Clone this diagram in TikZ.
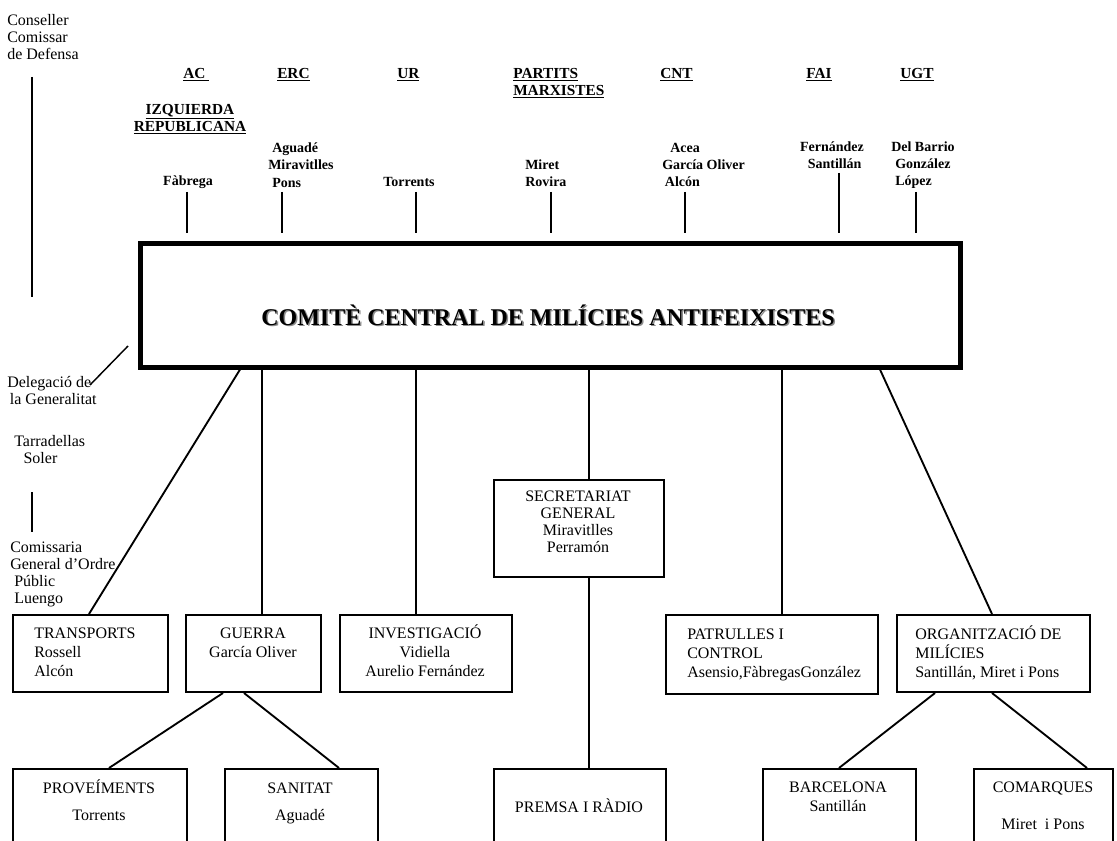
\documentclass[tikz,border=0pt]{standalone}
\usepackage{fontspec}
\setmainfont{Liberation Serif}
\usetikzlibrary{calc}
\newcommand{\fstr}{\rule{0pt}{11.5pt}}
\newcommand{\lstr}{\rule[-3.5pt]{0pt}{3.5pt}}
\begin{document}
\begin{tikzpicture}[x=0.75pt,y=-0.75pt,
  ln/.style={line width=1.4pt},
  thinln/.style={line width=1.1pt},
  bx/.style={draw,line width=1.5pt,inner sep=0pt,anchor=north west},
  tx/.style={inner sep=0pt,font=\fontsize{12}{14.25}\selectfont},
  side/.style={inner sep=0pt,align=left,anchor=west,font=\fontsize{12}{12.75}\selectfont},
  hd/.style={inner sep=0pt,anchor=west,font=\fontsize{11.5}{12.75}\selectfont\bfseries},
  nm/.style={inner sep=0pt,font=\fontsize{10.5}{13}\selectfont\bfseries},
]
\useasboundingbox (0,0) rectangle (1117,841);
\clip (0,0) rectangle (1117,841);

% ---------- top-left ----------
\node[side] (cons) at (7,37) {Conseller\\Comissar\\de Defensa};
\coordinate (cv1) at (32,77);
\coordinate (cv2) at (32,297);
\draw[ln] (cv1) -- (cv2);

% ---------- party headers ----------
\node[hd] (ac) at (183,75) {\underline{AC~}};
\node[hd] (erc) at (277,75) {\underline{ERC}};
\node[hd] (ur) at (397,75) {\underline{UR}};
\node[hd,align=left] (pm) at (513,83.5) {\underline{PARTITS}\\\underline{MARXISTES}};
\node[hd] (cnt) at (660,75) {\underline{CNT}};
\node[hd] (fai) at (806,75) {\underline{FAI}};
\node[hd] (ugt) at (900,75) {\underline{UGT}};
\node[hd,anchor=center,align=center] (izq) at (190,119) {\underline{IZQUIERDA}\\\underline{REPUBLICANA}};

% ---------- names ----------
\node[nm] (fab) at (188,182) {Fàbrega};
\node[nm,align=left,anchor=west] (agu) at (268,165) {\hspace*{3pt}Aguadé\\Miravitlles\\\hspace*{3pt}Pons};
\node[nm,anchor=west] (tor) at (383,182) {Torrents};
\node[nm,align=left,anchor=west] (mir) at (525,173) {Miret\\Rovira};
\node[nm,align=left,anchor=west] (cntn) at (662,165) {\hspace*{6pt}Acea\\García Oliver\\\hspace*{2pt}Alcón};
\node[nm,align=center] (fain) at (832,155) {Fernández\\\hspace*{4pt}Santillán};
\node[nm,align=left,anchor=west] (ugtn) at (891,165) {Del Barrio\\\hspace*{3pt}González\\\hspace*{3pt}López};

\foreach \n/\x/\y in {a/187/192, b/282/192, c/416/192, d/551/192, e/685/192, f/839/173, g/916/192}{
  \coordinate (top\n) at (\x,\y);
  \coordinate (bot\n) at (\x,233);
  \draw[ln] (top\n) -- (bot\n);
}

% ---------- main box ----------
\node[draw,line width=3.4pt,inner sep=0pt,anchor=north west,minimum width=615pt,minimum height=93pt] (cc) at (138,241) {};
\node[text=black!45,font=\fontsize{18}{20}\selectfont\bfseries] (titlesh) at (549.5,316.5) {COMITÈ CENTRAL DE MILÍCIES ANTIFEIXISTES};
\node[font=\fontsize{18}{20}\selectfont\bfseries] (title) at (548,315) {COMITÈ CENTRAL DE MILÍCIES ANTIFEIXISTES};

% ---------- left column ----------
\node[side] (deleg) at (7,391) {Delegació de\\\hspace*{2pt}la Generalitat};
\coordinate (dl1) at (128,346);
\coordinate (dl2) at (90,385);
\draw[thinln] (dl1) -- (dl2);
\node[side] (tarr) at (14,450) {Tarradellas\\\hspace*{7pt}Soler};
\coordinate (tv1) at (32,492);
\coordinate (tv2) at (32,532);
\draw[ln] (tv1) -- (tv2);
\node[side] (comis) at (10,574.5) {Comissaria\\General d’Ordre\\\hspace*{3pt}Públic\\\hspace*{3pt}Luengo};

% ---------- boxes ----------
\node[bx,minimum width=116.25pt,minimum height=57.75pt] (trans) at (12,614) {};
\node[bx,minimum width=101.25pt,minimum height=57.75pt] (guerra) at (185,614) {};
\node[bx,minimum width=129pt,minimum height=57.75pt] (invest) at (339,614) {};
\node[bx,minimum width=127.5pt,minimum height=72.75pt] (secr) at (493,479) {};
\node[bx,minimum width=159pt,minimum height=59.25pt] (patr) at (665,614) {};
\node[bx,minimum width=144.75pt,minimum height=57.75pt] (org) at (896,614) {};
\node[bx,minimum width=130.5pt,minimum height=75pt] (prov) at (12,768) {};
\node[bx,minimum width=114.75pt,minimum height=75pt] (san) at (224,768) {};
\node[bx,minimum width=129pt,minimum height=75pt] (prem) at (493,768) {};
\node[bx,minimum width=114.75pt,minimum height=75pt] (barc) at (762,768) {};
\node[bx,minimum width=104.25pt,minimum height=75pt] (comar) at (973,768) {};

\node[tx,align=left,anchor=west] (transT) at (34,652) {\fstr TRANSPORTS\\Rossell\\Alcón\lstr};
\node[tx,align=center] (guerraT) at (253,643) {\fstr GUERRA\\García Oliver\lstr};
\node[tx,align=center] (investT) at (425,652) {\fstr INVESTIGACIÓ\\Vidiella\\Aurelio Fernández\lstr};
\node[tx,align=center,font=\fontsize{12}{12.75}\selectfont] (secrT) at (578,522) {\fstr SECRETARIAT\\GENERAL\\Miravitlles\\Perramón\lstr};
\node[tx,align=left,anchor=west] (patrT) at (687,653) {\fstr PATRULLES I\\CONTROL\\Asensio,FàbregasGonzález\lstr};
\node[tx,align=left,anchor=west] (orgT) at (915,653) {\fstr ORGANITZACIÓ DE\\MILÍCIES\\Santillán, Miret i Pons\lstr};
\node[tx,align=center] (provT) at (99,801.5) {\fstr PROVEÍMENTS\\[5.75pt]Torrents\lstr};
\node[tx,align=center] (sanT) at (300,801.5) {\fstr SANITAT\\[5.75pt]Aguadé\lstr};
\node[tx] (premT) at (579,807) {\fstr PREMSA I RÀDIO\lstr};
\node[tx,align=center] (barcT) at (838,797) {\fstr BARCELONA\\Santillán\lstr};
\node[tx,align=center] (comT) at (1043,806) {\fstr COMARQUES\\[13.5pt]Miret\ \ i Pons\lstr};

% ---------- connectors ----------
\draw[ln] ($(cc.south west)+(102,0)$) -- ($(trans.north west)+(77,0)$);
\draw[ln] ($(cc.south west)+(124,0)$) -- ($(guerra.north west)+(77,0)$);
\draw[ln] ($(cc.south west)+(278,0)$) -- ($(invest.north west)+(77,0)$);
\draw[ln] ($(cc.south west)+(451,0)$) -- ($(secr.north west)+(96,0)$);
\draw[ln] ($(secr.south west)+(96,0)$) -- ($(prem.north west)+(96,0)$);
\draw[ln] ($(cc.south west)+(644,0)$) -- ($(patr.north west)+(117,0)$);
\draw[ln] ($(cc.south west)+(742,0)$) -- ($(org.north west)+(96,0)$);
\draw[ln] ($(guerra.south west)+(38,0)$) -- ($(prov.north west)+(97,0)$);
\draw[ln] ($(guerra.south west)+(59,0)$) -- ($(san.north west)+(115,0)$);
\draw[ln] ($(org.south west)+(39,0)$) -- ($(barc.north west)+(77,0)$);
\draw[ln] ($(org.south west)+(96,0)$) -- ($(comar.north west)+(114,0)$);
\end{tikzpicture}
\end{document}
